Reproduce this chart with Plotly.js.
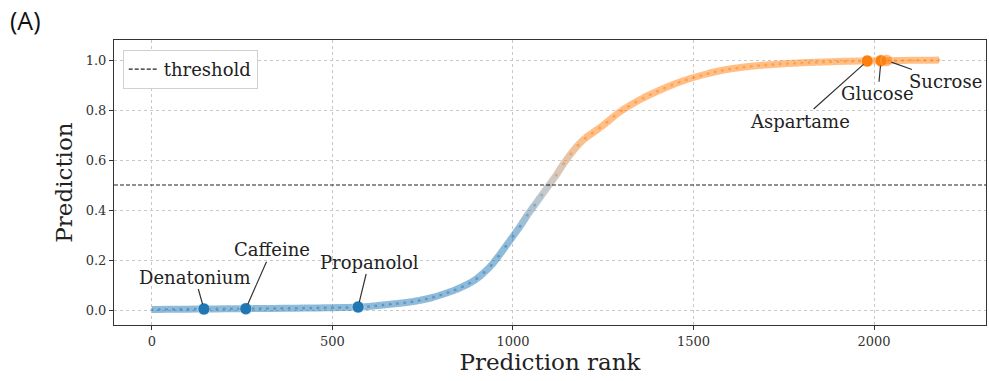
<!DOCTYPE html>
<html>
<head>
<meta charset="utf-8">
<script src="https://cdn.plot.ly/plotly-3.0.1.min.js"></script>
<style>
  html, body { margin: 0; padding: 0; background: #fff; }
  #chart { width: 989px; height: 381px; }
</style>
</head>
<body>
<div id="chart"></div>
<script>
// Ranked model predictions (every 20th rank)
const ranks = [
  0, 20, 40, 60, 80, 100, 120, 140, 160, 180,
  200, 220, 240, 260, 280, 300, 320, 340, 360, 380,
  400, 420, 440, 460, 480, 500, 520, 540, 560, 580,
  600, 620, 640, 660, 680, 700, 720, 740, 760, 780,
  800, 820, 840, 860, 880, 900, 920, 940, 960, 980,
  1000, 1020, 1040, 1060, 1080, 1100, 1120, 1140, 1160, 1180,
  1200, 1220, 1240, 1260, 1280, 1300, 1320, 1340, 1360, 1380,
  1400, 1420, 1440, 1460, 1480, 1500, 1520, 1540, 1560, 1580,
  1600, 1620, 1640, 1660, 1680, 1700, 1720, 1740, 1760, 1780,
  1800, 1820, 1840, 1860, 1880, 1900, 1920, 1940, 1960, 1980,
  2000, 2020, 2040, 2060, 2080, 2100, 2120, 2140, 2160, 2180
];
const predictions = [
  0.002, 0.002, 0.003, 0.003, 0.003, 0.003, 0.004, 0.004, 0.004, 0.004,
  0.005, 0.005, 0.005, 0.005, 0.006, 0.006, 0.006, 0.006, 0.007, 0.007,
  0.007, 0.008, 0.008, 0.008, 0.009, 0.009, 0.010, 0.010, 0.011, 0.012,
  0.014, 0.017, 0.020, 0.023, 0.026, 0.029, 0.033, 0.038, 0.044, 0.051,
  0.060, 0.070, 0.080, 0.093, 0.107, 0.125, 0.150, 0.178, 0.215, 0.255,
  0.295, 0.335, 0.380, 0.420, 0.460, 0.500, 0.540, 0.585, 0.625, 0.660,
  0.688, 0.708, 0.728, 0.751, 0.775, 0.797, 0.815, 0.832, 0.848, 0.862,
  0.875, 0.888, 0.900, 0.911, 0.921, 0.930, 0.938, 0.946, 0.953, 0.959,
  0.964, 0.968, 0.972, 0.975, 0.978, 0.980, 0.982, 0.984, 0.986, 0.987,
  0.989, 0.990, 0.991, 0.992, 0.993, 0.994, 0.995, 0.995, 0.996, 0.996,
  0.997, 0.997, 0.998, 0.998, 0.998, 0.999, 0.999, 0.999, 0.999, 1.000
];

// Named compounds
const compounds      = ['Denatonium', 'Caffeine', 'Propanolol', 'Aspartame', 'Glucose', 'Sucrose'];
const compoundRanks  = [144, 260, 571, 1981, 2019, 2035];
const compoundPreds  = [0.004, 0.005, 0.012, 0.996, 0.997, 0.998];

const threshold = 0.5;
const xRange = [-105, 2310];
const yRange = [-0.06, 1.08];

const BLUE = [31, 119, 180];
const GREY = [150, 150, 150];
const ORANGE = [255, 127, 14];

function mix(a, b, t) {
  return a.map((v, i) => Math.round(v + (b[i] - v) * t));
}
function colourFor(p) {
  let c;
  if (p <= 0.3) c = BLUE;
  else if (p < 0.5) c = mix(BLUE, GREY, (p - 0.3) / 0.2);
  else if (p < 0.7) c = mix(GREY, ORANGE, (p - 0.5) / 0.2);
  else c = ORANGE;
  return 'rgb(' + c.join(',') + ')';
}

const traces = [];

// Curve: one short segment per pair of neighbouring ranks, coloured by prediction
for (let i = 0; i < ranks.length - 1; i++) {
  const mid = (predictions[i] + predictions[i + 1]) / 2;
  traces.push({
    type: 'scatter', mode: 'lines',
    x: [ranks[i], ranks[i + 1]],
    y: [predictions[i], predictions[i + 1]],
    line: { color: colourFor(mid), width: 7 },
    opacity: 0.5,
    showlegend: false, hoverinfo: 'skip'
  });
}
// small dots along the curve
traces.push({
  type: 'scatter', mode: 'markers',
  x: ranks, y: predictions,
  marker: { size: 3, color: predictions.map(colourFor), opacity: 0.5 },
  showlegend: false, hoverinfo: 'skip'
});

// Threshold
traces.push({
  type: 'scatter', mode: 'lines',
  x: xRange, y: [threshold, threshold],
  name: 'threshold',
  line: { color: '#222', width: 1.2, dash: '4px,2px' },
  hoverinfo: 'skip'
});

// Highlighted compounds
traces.push({
  type: 'scatter', mode: 'markers',
  x: compoundRanks, y: compoundPreds,
  marker: {
    size: 12,
    color: compoundPreds.map(p => p > threshold ? '#ff7f0e' : '#1f77b4'),
    opacity: compounds.map(n => n === 'Sucrose' ? 0.55 : 1),
    line: { color: 'rgba(255,255,255,0.6)', width: 0.8 }
  },
  showlegend: false, hoverinfo: 'skip'
});

// label offsets (pixels) for each compound's callout
const labelOffsets = {
  Denatonium: [-9, -32],
  Caffeine:   [26, -59],
  Propanolol: [11, -45],
  Aspartame:  [-67, 60],
  Glucose:    [-3, 33],
  Sucrose:    [59, 21]
};

const serif = 'DejaVu Serif, serif';

const annotations = compounds.map((name, i) => ({
  x: compoundRanks[i], y: compoundPreds[i],
  xref: 'x', yref: 'y',
  text: name,
  showarrow: true, arrowhead: 0, arrowwidth: 1.2, arrowcolor: '#333',
  standoff: 5,
  ax: labelOffsets[name][0], ay: labelOffsets[name][1],
  font: { family: serif, size: 18, color: '#222' }
}));

annotations.push({
  xref: 'paper', yref: 'paper',
  x: -0.121, y: 1.07, xanchor: 'left', yanchor: 'middle',
  text: '(A)', showarrow: false,
  font: { family: 'Open Sans, sans-serif', size: 25, color: '#111' }
});

const axisCommon = {
  showline: true, mirror: true, linecolor: '#333', linewidth: 1,
  ticks: 'outside', ticklen: 4, tickcolor: '#333',
  showgrid: true, gridcolor: '#c8c8c8', gridwidth: 1, griddash: '3px,3px',
  zeroline: false,
  tickfont: { family: serif, size: 13, color: '#333' }
};

const layout = {
  width: 989, height: 381,
  margin: { l: 114, r: 3, t: 40, b: 56 },
  paper_bgcolor: '#fff', plot_bgcolor: '#fff',
  xaxis: Object.assign({}, axisCommon, {
    range: xRange,
    tickvals: [0, 500, 1000, 1500, 2000],
    title: { text: 'Prediction rank', font: { family: serif, size: 23, color: '#222' }, standoff: 4 }
  }),
  yaxis: Object.assign({}, axisCommon, {
    range: yRange,
    tickvals: [0, 0.2, 0.4, 0.6, 0.8, 1.0],
    tickformat: '.1f',
    title: { text: 'Prediction', font: { family: serif, size: 23, color: '#222' }, standoff: 6 }
  }),
  showlegend: true,
  legend: {
    x: 0.01, y: 0.965, xanchor: 'left', yanchor: 'top',
    bgcolor: '#fff', bordercolor: '#d0d0d0', borderwidth: 1,
    font: { family: serif, size: 18, color: '#222' }
  },
  annotations: annotations
};

Plotly.newPlot('chart', traces, layout, { staticPlot: true, displayModeBar: false });
</script>
</body>
</html>
